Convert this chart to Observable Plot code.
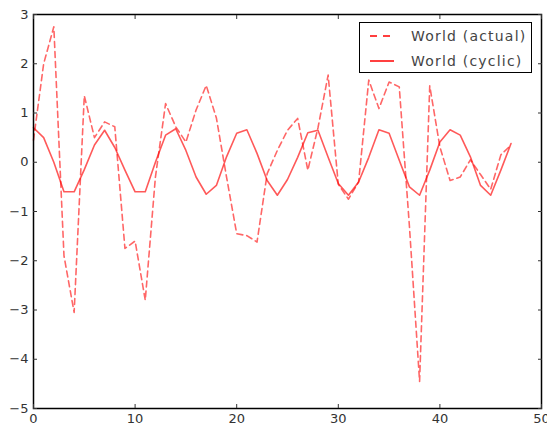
<!DOCTYPE html>
<html>
<head>
<meta charset="utf-8">
<script src="https://cdn.jsdelivr.net/npm/d3@7"></script>
<script src="https://cdn.jsdelivr.net/npm/@observablehq/plot@0.6"></script>
<style>
  body { margin: 0; background: #fff; }
  #wrap { position: relative; width: 547px; height: 425px; }
  #legend {
    position: absolute; left: 359px; top: 22px; width: 171px; height: 49px;
    border: 1.5px solid #000; background: #fff;
    font-family: "DejaVu Sans"; font-size: 14px; color: #444; letter-spacing: 1.2px;
  }
  #legend .row { position: absolute; left: 0; height: 20px; width: 171px; }
  #legend svg { position: absolute; left: 10px; top: 0; }
  #legend span { position: absolute; left: 51px; top: 1px; line-height: 18px; white-space: nowrap; }
</style>
</head>
<body>
<div id="wrap"></div>
<script>
// Series labels
const seriesNames = ["World (actual)", "World (cyclic)"];

// World (actual) — dashed
const actual = [0.45, 2.0, 2.75, -1.9, -3.05, 1.35, 0.5, 0.82, 0.72, -1.75,
  -1.6, -2.8, -0.3, 1.19, 0.72, 0.41, 1.06, 1.56, 0.9, -0.3,
  -1.45, -1.49, -1.62, -0.23, 0.24, 0.65, 0.89, -0.16, 0.7, 1.77,
  -0.45, -0.75, -0.4, 1.67, 1.09, 1.63, 1.53, -1.3, -4.45, 1.55,
  0.31, -0.37, -0.3, 0.05, -0.25, -0.55, 0.15, 0.35];

// World (cyclic) — solid
const cyclic = [0.7, 0.5, 0.0, -0.6, -0.6, -0.15, 0.35, 0.65, 0.3, -0.16,
  -0.6, -0.6, 0.0, 0.55, 0.68, 0.24, -0.3, -0.65, -0.47, 0.11,
  0.59, 0.66, 0.18, -0.37, -0.67, -0.35, 0.1, 0.6, 0.65, 0.1,
  -0.43, -0.67, -0.4, 0.1, 0.66, 0.59, 0.04, -0.5, -0.67, -0.16,
  0.41, 0.66, 0.55, 0.11, -0.47, -0.67, -0.16, 0.38];

// Tick values
const xTicks = [0, 10, 20, 30, 40, 50];
const yTicks = [-5, -4, -3, -2, -1, 0, 1, 2, 3];

const rows = actual.map((v, i) => ({t: i, actual: v, cyclic: cyclic[i]}));

const lineColor = "red";

const chart = Plot.plot({
  width: 547,
  height: 425,
  marginLeft: 33,
  marginRight: 6,
  marginTop: 14,
  marginBottom: 17,
  x: {domain: [0, 50]},
  y: {domain: [-5, 3]},
  style: {fontFamily: "DejaVu Sans", fontSize: "13px", color: "#333", background: "white"},
  marks: [
    Plot.line(rows, {x: "t", y: "actual", stroke: lineColor, strokeWidth: 1.6, strokeOpacity: 0.6, strokeDasharray: "6,4"}),
    Plot.line(rows, {x: "t", y: "cyclic", stroke: lineColor, strokeWidth: 1.6, strokeOpacity: 0.65}),
    Plot.frame({stroke: "black", strokeWidth: 1.5}),
    Plot.axisX({ticks: xTicks, tickSize: -4, tickPadding: 9, label: null}),
    Plot.axisX({anchor: "top", ticks: xTicks, tickSize: -4, tickFormat: () => "", label: null}),
    Plot.axisY({ticks: yTicks, tickSize: -4, tickPadding: 9, label: null}),
    Plot.axisY({anchor: "right", ticks: yTicks, tickSize: -4, tickFormat: () => "", label: null})
  ]
});

const wrap = document.getElementById("wrap");
wrap.appendChild(chart);

// Legend (inside plot, top-right)
const legend = document.createElement("div");
legend.id = "legend";
const dashes = ["7,6", null];
seriesNames.forEach((name, i) => {
  const row = document.createElement("div");
  row.className = "row";
  row.style.top = (i === 0 ? 3 : 28) + "px";
  const ns = "http://www.w3.org/2000/svg";
  const svg = document.createElementNS(ns, "svg");
  svg.setAttribute("width", "26");
  svg.setAttribute("height", "20");
  const ln = document.createElementNS(ns, "line");
  ln.setAttribute("x1", "0"); ln.setAttribute("x2", "24");
  ln.setAttribute("y1", "10"); ln.setAttribute("y2", "10");
  ln.setAttribute("stroke", lineColor);
  ln.setAttribute("stroke-width", "1.5");
  if (dashes[i]) ln.setAttribute("stroke-dasharray", dashes[i]);
  svg.appendChild(ln);
  row.appendChild(svg);
  const sp = document.createElement("span");
  sp.textContent = name;
  row.appendChild(sp);
  legend.appendChild(row);
});
wrap.appendChild(legend);
</script>
</body>
</html>
